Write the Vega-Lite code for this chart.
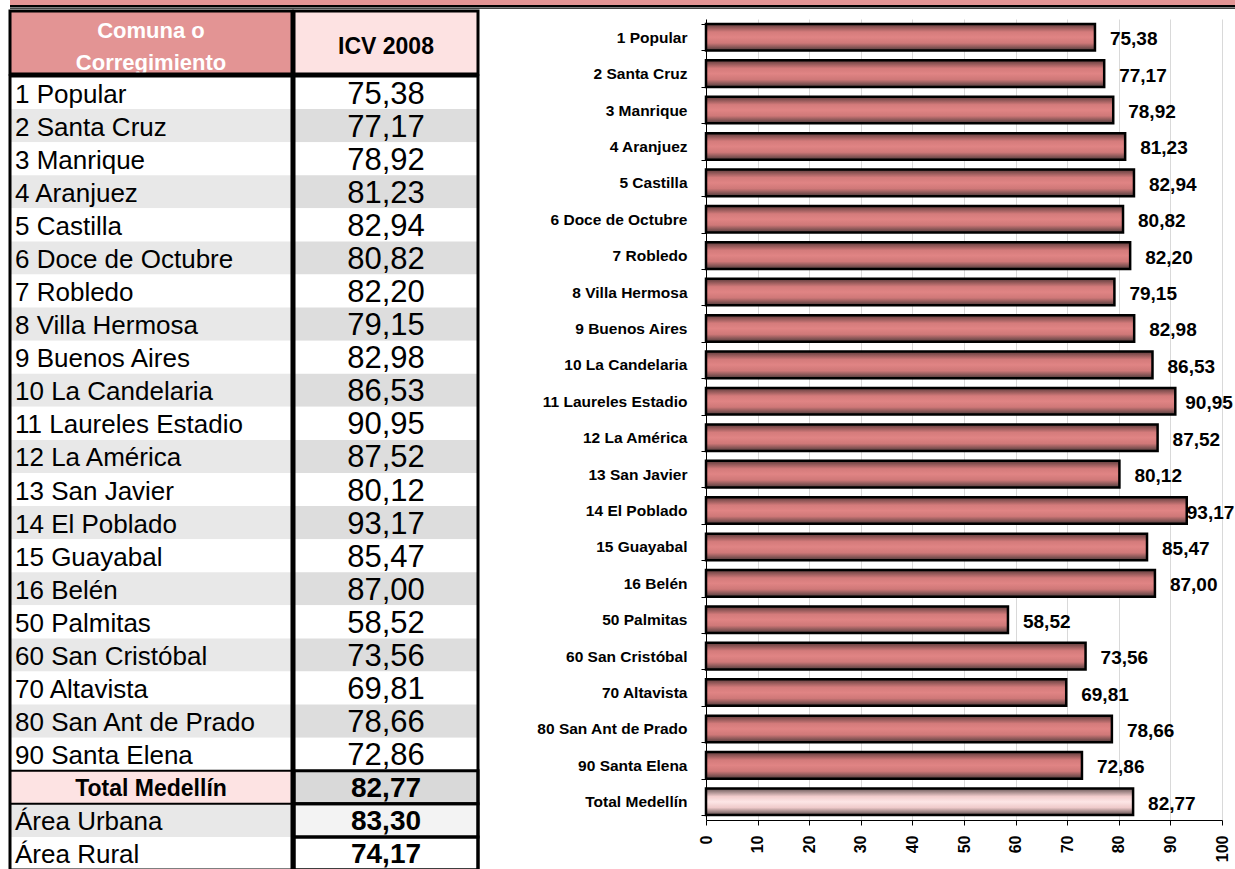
{
  "$schema": "https://vega.github.io/schema/vega-lite/v6.json",
  "padding": {"left": 8, "top": 0, "right": 0, "bottom": 0},
  "background": "white",
  "config": {
    "font": "Liberation Sans",
    "view": {"stroke": null},
    "locale": {"number": {"decimal": ",", "thousands": ".", "grouping": [3], "currency": ["", ""]}}
  },
  "datasets": {
    "icv": [
      {"zona": "1 Popular", "icv": 75.38, "tipo": "comuna"},
      {"zona": "2 Santa Cruz", "icv": 77.17, "tipo": "comuna"},
      {"zona": "3 Manrique", "icv": 78.92, "tipo": "comuna"},
      {"zona": "4 Aranjuez", "icv": 81.23, "tipo": "comuna"},
      {"zona": "5 Castilla", "icv": 82.94, "tipo": "comuna"},
      {"zona": "6 Doce de Octubre", "icv": 80.82, "tipo": "comuna"},
      {"zona": "7 Robledo", "icv": 82.20, "tipo": "comuna"},
      {"zona": "8 Villa Hermosa", "icv": 79.15, "tipo": "comuna"},
      {"zona": "9 Buenos Aires", "icv": 82.98, "tipo": "comuna"},
      {"zona": "10 La Candelaria", "icv": 86.53, "tipo": "comuna"},
      {"zona": "11 Laureles Estadio", "icv": 90.95, "tipo": "comuna"},
      {"zona": "12 La América", "icv": 87.52, "tipo": "comuna"},
      {"zona": "13 San Javier", "icv": 80.12, "tipo": "comuna"},
      {"zona": "14 El Poblado", "icv": 93.17, "tipo": "comuna"},
      {"zona": "15 Guayabal", "icv": 85.47, "tipo": "comuna"},
      {"zona": "16 Belén", "icv": 87.00, "tipo": "comuna"},
      {"zona": "50 Palmitas", "icv": 58.52, "tipo": "comuna"},
      {"zona": "60 San Cristóbal", "icv": 73.56, "tipo": "comuna"},
      {"zona": "70 Altavista", "icv": 69.81, "tipo": "comuna"},
      {"zona": "80 San Ant de Prado", "icv": 78.66, "tipo": "comuna"},
      {"zona": "90 Santa Elena", "icv": 72.86, "tipo": "comuna"},
      {"zona": "Total Medellín", "icv": 82.77, "tipo": "total"},
      {"zona": "Área Urbana", "icv": 83.30, "tipo": "area"},
      {"zona": "Área Rural", "icv": 74.17, "tipo": "area"}
    ]
  },
  "spacing": 0,
  "vconcat": [
    {
      "width": 1227,
      "height": 9,
      "data": {"values": [{}]},
      "layer": [
        {"mark": {"type": "rect", "fill": "#E39494"}, "encoding": {"y": {"datum": 4, "type": "quantitative", "scale": {"domain": [0, 9], "nice": false, "zero": false}, "axis": null}, "y2": {"datum": 9}}},
        {"mark": {"type": "rect", "fill": "#000000"}, "encoding": {"y": {"datum": 1.6, "type": "quantitative", "axis": null}, "y2": {"datum": 4}}},
        {"mark": {"type": "rect", "fill": "#444444"}, "encoding": {"y": {"datum": 0, "type": "quantitative", "axis": null}, "y2": {"datum": 1}}}
      ]
    },
    {
      "spacing": 56,
      "hconcat": [
        {
          "spacing": -3,
          "vconcat": [
            {
              "spacing": -3,
              "hconcat": [
                {
                  "width": 282,
                  "height": 63,
                  "data": {"values": [{}]},
                  "layer": [
                    {"mark": {"type": "rect", "fill": "#E39494"}},
                    {"mark": {"type": "text", "text": "Comuna o", "color": "#FFFFFF", "fontWeight": "bold", "fontSize": 22, "align": "center", "baseline": "middle", "dy": -12}},
                    {"mark": {"type": "text", "text": "Corregimiento", "color": "#FFFFFF", "fontWeight": "bold", "fontSize": 22, "align": "center", "baseline": "middle", "dy": 20}},
                    {"mark": {"type": "rect", "fill": "transparent", "stroke": "#000000", "strokeWidth": 3}}
                  ]
                },
                {
                  "width": 184,
                  "height": 63,
                  "data": {"values": [{}]},
                  "layer": [
                    {"mark": {"type": "rect", "fill": "#FDE2E2"}},
                    {"mark": {"type": "text", "text": "ICV 2008", "color": "#000000", "fontWeight": "bold", "fontSize": 23, "align": "center", "baseline": "middle", "dy": 4}},
                    {"mark": {"type": "rect", "fill": "transparent", "stroke": "#000000", "strokeWidth": 3}}
                  ]
                }
              ]
            },
            {
              "spacing": -3,
              "hconcat": [
                {
                  "width": 282,
                  "height": 794,
                  "layer": [
                    {
                      "data": {"name": "icv"},
                      "transform": [{"window": [{"op": "row_number", "as": "n"}]}],
                      "layer": [
                        {
                          "mark": {"type": "rect"},
                          "encoding": {
                            "y": {"field": "zona", "type": "nominal", "sort": null, "scale": {"paddingInner": 0, "paddingOuter": 0}, "axis": null},
                            "fill": {"condition": [{"test": "datum.tipo == 'total'", "value": "#FDE3E3"}, {"test": "(datum.tipo == 'comuna' && datum.n % 2 == 0) || datum.zona == 'Área Urbana'", "value": "#E8E8E8"}], "value": "#FFFFFF"}
                          }
                        },
                        {
                          "transform": [{"filter": "datum.tipo != 'total'"}],
                          "mark": {"type": "text", "align": "left", "baseline": "middle", "fontSize": 26, "dx": 5, "dy": 2, "color": "#000000"},
                          "encoding": {
                            "y": {"field": "zona", "type": "nominal", "sort": null, "axis": null},
                            "x": {"datum": 0, "type": "quantitative", "scale": {"domain": [0, 1]}, "axis": null},
                            "text": {"field": "zona"}
                          }
                        },
                        {
                          "transform": [{"filter": "datum.tipo == 'total'"}],
                          "mark": {"type": "text", "align": "center", "baseline": "middle", "fontSize": 23, "fontWeight": "bold", "dy": 2, "color": "#000000"},
                          "encoding": {
                            "y": {"field": "zona", "type": "nominal", "sort": null, "axis": null},
                            "text": {"field": "zona"}
                          }
                        },
                        {
                          "transform": [{"filter": "datum.tipo == 'total'"}],
                          "mark": {"type": "rect", "fill": "transparent", "stroke": "#000000", "strokeWidth": 2},
                          "encoding": {"y": {"field": "zona", "type": "nominal", "sort": null, "axis": null}}
                        }
                      ]
                    },
                    {
                      "data": {"values": [{}]},
                      "mark": {"type": "rect", "fill": "transparent", "stroke": "#000000", "strokeWidth": 3}
                    }
                  ]
                },
                {
                  "width": 184,
                  "height": 794,
                  "layer": [
                    {
                      "data": {"name": "icv"},
                      "transform": [{"window": [{"op": "row_number", "as": "n"}]}],
                      "layer": [
                        {
                          "mark": {"type": "rect"},
                          "encoding": {
                            "y": {"field": "zona", "type": "nominal", "sort": null, "scale": {"paddingInner": 0, "paddingOuter": 0}, "axis": null},
                            "fill": {"condition": [{"test": "datum.tipo == 'total'", "value": "#D9D9D9"}, {"test": "datum.tipo == 'comuna' && datum.n % 2 == 0", "value": "#DDDDDD"}, {"test": "datum.zona == 'Área Urbana'", "value": "#F3F3F3"}], "value": "#FFFFFF"}
                          }
                        },
                        {
                          "transform": [{"filter": "datum.tipo == 'comuna'"}],
                          "mark": {"type": "text", "align": "center", "baseline": "middle", "fontSize": 31, "dy": 2, "color": "#000000"},
                          "encoding": {
                            "y": {"field": "zona", "type": "nominal", "sort": null, "axis": null},
                            "text": {"field": "icv", "type": "quantitative", "format": ".2f"}
                          }
                        },
                        {
                          "transform": [{"filter": "datum.tipo != 'comuna'"}],
                          "mark": {"type": "text", "align": "center", "baseline": "middle", "fontSize": 28, "fontWeight": "bold", "dy": 2, "color": "#000000"},
                          "encoding": {
                            "y": {"field": "zona", "type": "nominal", "sort": null, "axis": null},
                            "text": {"field": "icv", "type": "quantitative", "format": ".2f"}
                          }
                        },
                        {
                          "transform": [{"filter": "datum.tipo != 'comuna'"}],
                          "mark": {"type": "rect", "fill": "transparent", "stroke": "#000000", "strokeWidth": 3},
                          "encoding": {"y": {"field": "zona", "type": "nominal", "sort": null, "axis": null}}
                        }
                      ]
                    },
                    {
                      "data": {"values": [{}]},
                      "mark": {"type": "rect", "fill": "transparent", "stroke": "#000000", "strokeWidth": 3}
                    }
                  ]
                }
              ]
            }
          ]
        },
        {
          "spacing": 0,
          "vconcat": [
            {
              "width": 516,
              "height": 1,
              "data": {"values": [{}]},
              "mark": {"type": "rect", "fill": "transparent"}
            },
            {
              "width": 516,
              "height": 801,
              "data": {"name": "icv"},
              "transform": [{"filter": "datum.tipo != 'area'"}],
              "encoding": {
                "y": {
                  "field": "zona", "type": "nominal", "sort": null,
                  "scale": {"paddingInner": 0.27, "paddingOuter": 0.135},
                  "axis": {"title": null, "labelFont": "Liberation Sans", "labelFontWeight": "bold", "labelFontSize": 15.5, "labelColor": "#000000", "labelPadding": 14, "tickColor": "#000000", "tickSize": 5, "tickWidth": 1, "domainColor": "#000000", "domainWidth": 1, "tickBand": "extent", "grid": false, "labelLimit": 300}
                },
                "x": {
                  "field": "icv", "type": "quantitative",
                  "scale": {"domain": [0, 100], "nice": false},
                  "axis": {"title": null, "values": [0, 10, 20, 30, 40, 50, 60, 70, 80, 90, 100], "labelAngle": -90, "labelFont": "Liberation Sans", "labelFontWeight": "bold", "labelFontSize": 16, "labelColor": "#000000", "labelPadding": 10, "tickColor": "#000000", "tickSize": 5, "domainColor": "#000000", "domainWidth": 1, "grid": true, "gridColor": "#D9D9D9", "gridWidth": 1, "labelFlush": false}
                }
              },
              "layer": [
                {
                  "transform": [{"filter": "datum.tipo == 'comuna'"}],
                  "mark": {"type": "bar", "stroke": "#000000", "strokeWidth": 2.5,
                    "fill": {"gradient": "linear", "x1": 0, "y1": 0, "x2": 0, "y2": 1, "stops": [
                      {"offset": 0, "color": "#5e3c3c"},
                      {"offset": 0.3, "color": "#d47b7b"},
                      {"offset": 0.5, "color": "#e08484"},
                      {"offset": 0.72, "color": "#cf7878"},
                      {"offset": 1, "color": "#4e3c3c"}]}}
                },
                {
                  "transform": [{"filter": "datum.tipo == 'total'"}],
                  "mark": {"type": "bar", "stroke": "#000000", "strokeWidth": 2.5,
                    "fill": {"gradient": "linear", "x1": 0, "y1": 0, "x2": 0, "y2": 1, "stops": [
                      {"offset": 0, "color": "#6a5858"},
                      {"offset": 0.3, "color": "#f2cccc"},
                      {"offset": 0.5, "color": "#fde6e6"},
                      {"offset": 0.72, "color": "#efcaca"},
                      {"offset": 1, "color": "#5a4a4a"}]}}
                },
                {
                  "transform": [{"filter": "datum.icv < 90"}],
                  "mark": {"type": "text", "align": "left", "baseline": "middle", "dx": 15, "dy": 2, "fontSize": 19, "fontWeight": "bold", "color": "#000000"},
                  "encoding": {"text": {"field": "icv", "type": "quantitative", "format": ".2f"}}
                },
                {
                  "transform": [{"filter": "datum.icv >= 90 && datum.icv < 92"}],
                  "mark": {"type": "text", "align": "left", "baseline": "middle", "dx": 10, "dy": 2, "fontSize": 19, "fontWeight": "bold", "color": "#000000"},
                  "encoding": {"text": {"field": "icv", "type": "quantitative", "format": ".2f"}}
                },
                {
                  "transform": [{"filter": "datum.icv >= 92"}],
                  "mark": {"type": "text", "align": "left", "baseline": "middle", "dx": 0, "dy": 2, "fontSize": 19, "fontWeight": "bold", "color": "#000000"},
                  "encoding": {"text": {"field": "icv", "type": "quantitative", "format": ".2f"}}
                }
              ]
            }
          ]
        }
      ]
    }
  ]
}
